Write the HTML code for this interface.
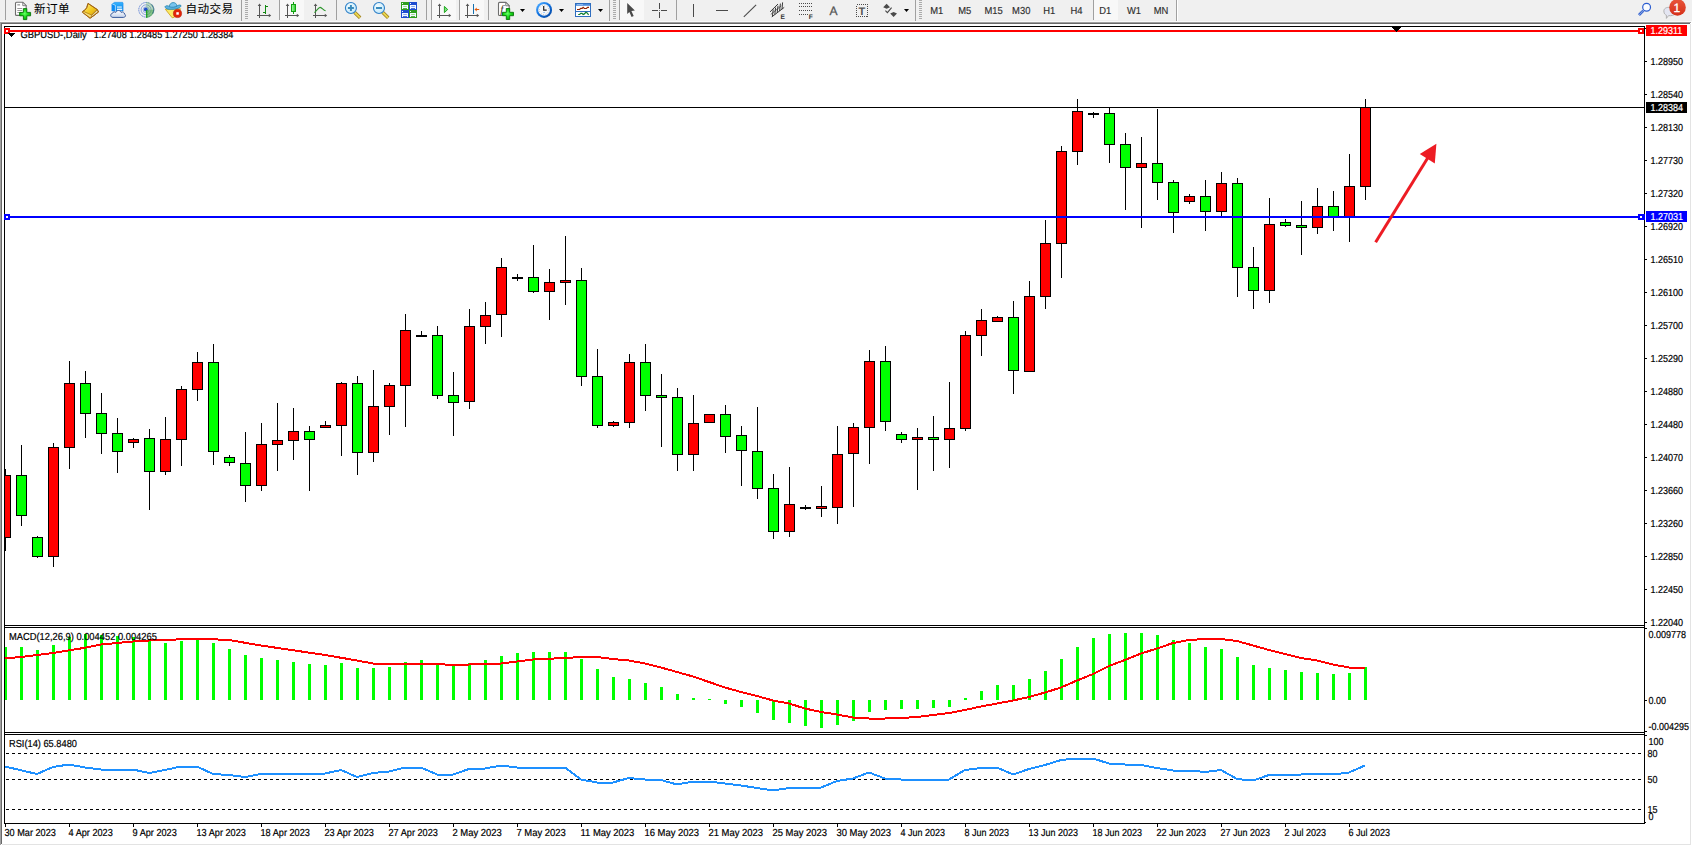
<!DOCTYPE html>
<html><head><meta charset="utf-8"><title>GBPUSD Daily</title>
<style>
html,body{margin:0;padding:0;background:#fff;}
svg text{text-rendering:geometricPrecision;}
body{width:1692px;height:845px;position:relative;overflow:hidden;font-family:"Liberation Sans","Noto Sans CJK SC",sans-serif;}
#tb{position:absolute;left:0;top:0;width:1692px;height:22px;background:#F0F0F0;}
.edge{position:absolute;}
.tf{position:absolute;top:4px;font-size:9px;line-height:12px;color:#3c3c3c;}
.cn{-webkit-text-stroke:0.08px #000;position:absolute;top:0.5px;font-size:11.6px;letter-spacing:0.4px;line-height:16px;color:#000;}
.sep{position:absolute;top:0;width:1px;height:20px;background:#A0A0A0;}
.act{position:absolute;top:0;height:20px;background:#F8F8F8;}
</style></head><body>
<div id="tb"><div class="sep" style="left:5px;height:20px"></div>
<div class="sep" style="left:241px;height:22px"></div>
<div style="position:absolute;left:245px;top:0;width:3px;height:20px;background:repeating-linear-gradient(to bottom,#ABABAB 0,#ABABAB 1px,transparent 1px,transparent 2px)"></div>
<div class="sep" style="left:279px;height:20px"></div>
<div class="act" style="left:280px;width:24px"></div>
<div class="sep" style="left:336px;height:20px"></div>
<div class="sep" style="left:426px;height:20px"></div>
<div class="sep" style="left:431px;height:20px"></div>
<div class="act" style="left:432px;width:24px"></div>
<div class="sep" style="left:459px;height:20px"></div>
<div class="act" style="left:460px;width:24px"></div>
<div class="sep" style="left:488px;height:20px"></div>
<div class="sep" style="left:609px;height:22px"></div>
<div style="position:absolute;left:613px;top:0;width:3px;height:20px;background:repeating-linear-gradient(to bottom,#ABABAB 0,#ABABAB 1px,transparent 1px,transparent 2px)"></div>
<div class="sep" style="left:619px;height:20px"></div>
<div class="act" style="left:620px;width:24px"></div>
<div class="sep" style="left:676px;height:20px"></div>
<div class="sep" style="left:915px;height:22px"></div>
<div style="position:absolute;left:919px;top:0;width:3px;height:20px;background:repeating-linear-gradient(to bottom,#ABABAB 0,#ABABAB 1px,transparent 1px,transparent 2px)"></div>
<div class="sep" style="left:1093px;height:20px"></div>
<div class="act" style="left:1094px;width:24px"></div>
<div class="sep" style="left:1176px;height:22px"></div>
<div style="position:absolute;left:1177px;top:0;width:1px;height:22px;background:#fff"></div>
<span class="cn" style="left:34px">新订单</span>
<span class="cn" style="left:185.6px">自动交易</span>
<svg width="1692" height="22" viewBox="0 0 1692 22" style="position:absolute;left:0;top:0">
<defs>
<radialGradient id="gp" cx="0.45" cy="0.45" r="0.6"><stop offset="0" stop-color="#66FF66"/><stop offset="0.55" stop-color="#18D818"/><stop offset="1" stop-color="#0AA00A"/></radialGradient>
<linearGradient id="gy" x1="0" y1="0" x2="1" y2="1"><stop offset="0" stop-color="#FFF08A"/><stop offset="0.5" stop-color="#F2C81E"/><stop offset="1" stop-color="#C98F0A"/></linearGradient>
<linearGradient id="gc" x1="0" y1="0" x2="0" y2="1"><stop offset="0" stop-color="#FFFFFF"/><stop offset="1" stop-color="#C4D2EA"/></linearGradient>
<linearGradient id="gb" x1="0" y1="0" x2="0" y2="1"><stop offset="0" stop-color="#35B4FF"/><stop offset="1" stop-color="#0A84E8"/></linearGradient>
<radialGradient id="gz" cx="0.4" cy="0.35" r="0.7"><stop offset="0" stop-color="#F4FDFF"/><stop offset="1" stop-color="#BFE6FA"/></radialGradient>
<linearGradient id="gr" x1="0" y1="0" x2="0" y2="1"><stop offset="0" stop-color="#E8553A"/><stop offset="1" stop-color="#D5301A"/></linearGradient>
<linearGradient id="gk" x1="0" y1="0" x2="1" y2="0"><stop offset="0" stop-color="#B0FFB0"/><stop offset="1" stop-color="#22CC22"/></linearGradient>
<radialGradient id="gclk" cx="0.5" cy="0.5" r="0.5"><stop offset="0.7" stop-color="#fff"/><stop offset="0.78" stop-color="#2C8CF0"/><stop offset="1" stop-color="#0A5AC0"/></radialGradient>
<linearGradient id="gclk2" x1="0.15" y1="0.1" x2="0.85" y2="0.9"><stop offset="0" stop-color="#46A6FF"/><stop offset="0.5" stop-color="#0E6EDC"/><stop offset="1" stop-color="#064CA8"/></linearGradient>
</defs>
<path d="M16.5 2.3h6.3l3.4 3.4v8.7a1 1 0 0 1 -1 1h-8.7a1 1 0 0 1 -1 -1v-11.1a1 1 0 0 1 1 -1z" fill="#fff" stroke="#6E6E6E" stroke-width="1.1"/>
<path d="M22.8 2.3v3.4h3.4z" fill="#fff" stroke="#6E6E6E" stroke-width="0.9" stroke-linejoin="round"/>
<rect x="17.3" y="4.2" width="2.8" height="1.3" fill="#9A9A9A"/>
<rect x="17.3" y="8.0" width="5" height="1" fill="#9A9A9A"/>
<rect x="17.3" y="10.0" width="5" height="1" fill="#9A9A9A"/>
<rect x="17.3" y="12.0" width="5" height="1" fill="#9A9A9A"/>
<path d="M23.400000000000002 8.6h3.4v3.8h3.8v3.4h-3.8v3.8h-3.4v-3.8h-3.8v-3.4h3.8z" fill="url(#gp)" stroke="#087808" stroke-width="0.9" stroke-linejoin="round"/>
<g transform="translate(0.5 0.3)">
<path d="M87.5 3.1 L96.7 9.2 L98 11.7 L90.3 17.5 L89.4 17.8 L82 12 L82.3 11.1 Q85.6 9.4 86.3 7.1 Z" fill="url(#gy)" stroke="#A0620E" stroke-width="0.9" stroke-linejoin="round"/>
<path d="M82.6 10.9 L91.2 14.8 L96.7 9.3 L97.8 11.6 L90.2 17.4 L82.2 12 Z" fill="#F4DC78" stroke="none"/>
<path d="M91.2 14.8 L96.7 9.3 L97.8 11.6 L90.4 17.3 Z" fill="#E8D8A0" stroke="#9A6410" stroke-width="0.6"/>
<path d="M82.6 10.9 L91.2 14.8 L96.7 9.3" fill="none" stroke="#B07A12" stroke-width="0.8"/>
<path d="M87.5 3.1 L96.7 9.2 L98 11.7 L90.3 17.5 L89.4 17.8 L82 12 L82.3 11.1 Q85.6 9.4 86.3 7.1 Z" fill="none" stroke="#A0620E" stroke-width="0.9" stroke-linejoin="round"/>
</g>
<path d="M111.9 4 L114.6 2.3 L122.6 2.3 L123.1 3.2 L123.1 11 L111.9 11 Z" fill="url(#gb)" stroke="#1884E8" stroke-width="0.5"/>
<path d="M111.9 4 L115.4 5.4 L115.4 11 L111.9 11 Z" fill="#0C8CF4"/>
<path d="M112.2 3.9 L115.4 5.3 L115.4 11" fill="none" stroke="#D8F0FF" stroke-width="0.7"/>
<rect x="117" y="6.5" width="4.8" height="1.1" fill="#F0FAFF"/><rect x="117" y="8.6" width="5.2" height="1.6" fill="#E4F4FF"/>
<path d="M113 17.4 C110.2 17.4 109.8 13.8 112.6 13.2 C112.8 11.8 114.8 11.4 115.8 12.4 C116.6 9.9 120.4 9.9 121.2 12.4 C122.8 11.4 124.8 12.6 124.4 14 C126.2 14.6 125.8 17.4 123.4 17.4 Z" fill="url(#gc)" stroke="#3A5A9C" stroke-width="1"/>
<g fill="none"><circle cx="146.1" cy="9.8" r="7.3" stroke="#2E5CCB" stroke-width="1" opacity="0.7" stroke-dasharray="1.3 0.5"/><circle cx="146.1" cy="9.8" r="5" stroke="#2E5CCB" stroke-width="1" opacity="0.5"/><circle cx="146.1" cy="9.8" r="3" stroke="#2E5CCB" stroke-width="0.9" opacity="0.45"/></g>
<path d="M146.1 1.8 A8 8 0 0 1 146.1 17.8 Z" fill="#58B058" opacity="0.33"/>
<path d="M146.1 9.8 L154.1 9.8 A8 8 0 0 1 146.1 17.8 Z" fill="#2E9E2E" opacity="0.4"/>
<path d="M151.4 4.4 A7.4 7.4 0 0 1 152.6 13.6" fill="none" stroke="#1E5A7A" stroke-width="1.1" opacity="0.6"/>
<circle cx="145.8" cy="9.5" r="1.9" fill="#2050C8"/>
<rect x="146.1" y="10" width="1.2" height="7.8" fill="#18A018"/>
<path d="M165.3 9.2 L180.7 8.8 L174.4 17.2 L172.2 17.8 Z" fill="#FBEA66" stroke="#CC9C12" stroke-width="0.8" stroke-linejoin="round"/>
<path d="M165 6.7 C165.8 9.8 170 9.5 173 9.3 C176.4 9.1 181.2 7.8 181 5.5 C179.8 4.4 177.6 5.4 177 6 L169.4 6.5 C168 5.4 165.4 5.5 165 6.7 Z" fill="#5CB2E2" stroke="#2484AE" stroke-width="0.8" stroke-linejoin="round"/>
<path d="M169.3 6.7 C169.6 1.4 176.6 1.2 177 6.1 C175 7.4 171.4 7.6 169.3 6.7 Z" fill="#78C4EE" stroke="#2484AE" stroke-width="0.8"/>
<circle cx="177.5" cy="13.5" r="4.1" fill="#E22408" stroke="#B81C06" stroke-width="0.6"/><rect x="176.3" y="12.2" width="2.5" height="2.5" fill="#fff"/>
<g fill="#555" shape-rendering="crispEdges"><rect x="259" y="5" width="1" height="13"/><rect x="257" y="15" width="13" height="1"/></g>
<path d="M259.5 3.6 L261.3 6 L257.7 6 Z M271.2 15.5 L268.8 13.7 L268.8 17.3 Z" fill="#555"/>
<g fill="#128A12" shape-rendering="crispEdges"><rect x="265" y="5" width="1" height="9"/><rect x="266" y="6" width="2" height="1"/><rect x="263" y="12" width="2" height="1"/></g>
<g fill="#555" shape-rendering="crispEdges"><rect x="287" y="5" width="1" height="13"/><rect x="285" y="15" width="13" height="1"/></g>
<path d="M287.5 3.6 L289.3 6 L285.7 6 Z M299.2 15.5 L296.8 13.7 L296.8 17.3 Z" fill="#555"/>
<rect x="293" y="2" width="1" height="12" fill="#12A012" shape-rendering="crispEdges"/><rect x="291.5" y="4.5" width="4" height="7" fill="url(#gk)" stroke="#12A012" stroke-width="1"/>
<g fill="#555" shape-rendering="crispEdges"><rect x="315" y="5" width="1" height="13"/><rect x="313" y="15" width="13" height="1"/></g>
<path d="M315.5 3.6 L317.3 6 L313.7 6 Z M327.2 15.5 L324.8 13.7 L324.8 17.3 Z" fill="#555"/>
<path d="M314.4 12.6 C317 10.8 318.4 7.2 320.2 7.4 C322 7.6 323.4 10.6 325.6 10.8" fill="none" stroke="#2C962C" stroke-width="1.1"/>
<path d="M354.5 12.2 L360.09999999999997 17.8" stroke="#9A7A18" stroke-width="3.4" stroke-linecap="butt"/>
<path d="M354.79999999999995 12.5 L359.9 17.6" stroke="#EAD650" stroke-width="2" stroke-linecap="butt"/>
<circle cx="350.9" cy="8" r="5.5" fill="url(#gz)" stroke="#2F80C8" stroke-width="1.1"/>
<rect x="347.9" y="7" width="6" height="2" fill="#3C8CBC"/>
<rect x="349.9" y="5" width="2" height="6" fill="#3C8CBC"/>
<path d="M382.6 12.2 L388.2 17.8" stroke="#9A7A18" stroke-width="3.4" stroke-linecap="butt"/>
<path d="M382.9 12.5 L388 17.6" stroke="#EAD650" stroke-width="2" stroke-linecap="butt"/>
<circle cx="379" cy="8" r="5.5" fill="url(#gz)" stroke="#2F80C8" stroke-width="1.1"/>
<rect x="376" y="7" width="6" height="2" fill="#3C8CBC"/>
<rect x="401" y="2" width="8" height="8" fill="#2E9E1E"/>
<rect x="402" y="5" width="6" height="4" fill="#F2F8FF"/><rect x="402" y="3" width="1" height="1" fill="#F2F8FF"/>
<rect x="403.2" y="6" width="3.6" height="1" fill="#9ADA8A"/>
<rect x="403" y="8.2" width="4" height="0.8" fill="#2E9E1E"/>
<rect x="409" y="2" width="8" height="8" fill="#1E4CD0"/>
<rect x="410" y="5" width="6" height="4" fill="#F2F8FF"/><rect x="410" y="3" width="1" height="1" fill="#F2F8FF"/>
<rect x="411.2" y="6" width="3.6" height="1" fill="#8AA6F0"/>
<rect x="411" y="8.2" width="4" height="0.8" fill="#1E4CD0"/>
<rect x="401" y="10" width="8" height="8" fill="#1E4CD0"/>
<rect x="402" y="13" width="6" height="4" fill="#F2F8FF"/><rect x="402" y="11" width="1" height="1" fill="#F2F8FF"/>
<rect x="403.2" y="14" width="3.6" height="1" fill="#8AA6F0"/>
<rect x="403" y="16.2" width="4" height="0.8" fill="#1E4CD0"/>
<rect x="409" y="10" width="8" height="8" fill="#2E9E1E"/>
<rect x="410" y="13" width="6" height="4" fill="#F2F8FF"/><rect x="410" y="11" width="1" height="1" fill="#F2F8FF"/>
<rect x="411.2" y="14" width="3.6" height="1" fill="#9ADA8A"/>
<rect x="411" y="16.2" width="4" height="0.8" fill="#2E9E1E"/>
<g fill="#555" shape-rendering="crispEdges"><rect x="439" y="5" width="1" height="13"/><rect x="437" y="15" width="13" height="1"/></g>
<path d="M439.5 3.6 L441.3 6 L437.7 6 Z M451.2 15.5 L448.8 13.7 L448.8 17.3 Z" fill="#555"/>
<path d="M444.4 6.4 L444.4 12.6 L447.7 9.5 Z" fill="#7BE07B" stroke="#12A012" stroke-width="0.9" stroke-linejoin="round"/>
<g fill="#555" shape-rendering="crispEdges"><rect x="467" y="5" width="1" height="13"/><rect x="465" y="15" width="13" height="1"/></g>
<path d="M467.5 3.6 L469.3 6 L465.7 6 Z M479.2 15.5 L476.8 13.7 L476.8 17.3 Z" fill="#555"/>
<rect x="473" y="4" width="1" height="10" fill="#1470B0" shape-rendering="crispEdges"/>
<path d="M474.4 9.5 L477 7.4 L476.6 9 L479.2 9 L479.2 10 L476.6 10 L477 11.6 Z" fill="#E25A0C"/>
<path d="M499.5 2.4h6.3l3.4 3.4v8.7a1 1 0 0 1 -1 1h-8.7a1 1 0 0 1 -1 -1v-11.1a1 1 0 0 1 1 -1z" fill="#fff" stroke="#6E6E6E" stroke-width="1.1"/>
<path d="M505.8 2.4v3.4h3.4z" fill="#fff" stroke="#6E6E6E" stroke-width="0.9" stroke-linejoin="round"/>
<text x="500.2" y="12.6" font-family="Liberation Serif, serif" font-style="italic" font-size="11.5" fill="#3A3420">f</text>
<path d="M506.3 8.5h3.4v3.8h3.8v3.4h-3.8v3.8h-3.4v-3.8h-3.8v-3.4h3.8z" fill="url(#gp)" stroke="#087808" stroke-width="0.9" stroke-linejoin="round"/>
<path d="M520 9 h5 l-2.5 3 z" fill="#000"/>
<circle cx="544.06" cy="9.9" r="8" fill="url(#gclk2)"/>
<circle cx="544.06" cy="9.9" r="5.9" fill="#F4F6F8"/>
<circle cx="544.06" cy="9.9" r="4.7" fill="none" stroke="#8A8A8A" stroke-width="0.9" stroke-dasharray="0.5 1.96"/>
<path d="M543.7 5.9 L543.7 10.1 L546.7 10.1" fill="none" stroke="#222" stroke-width="1.2"/>
<rect x="543.3" y="12.1" width="1.6" height="0.7" fill="#58A8FF"/>
<path d="M559 9 h5 l-2.5 3 z" fill="#000"/>
<rect x="575.5" y="3.5" width="15" height="13" fill="#fff" stroke="#2F6EC0" stroke-width="1"/>
<rect x="576" y="4" width="14" height="1.8" fill="#4C8CDC"/><rect x="577" y="4.3" width="6" height="0.7" fill="#A8CCF8"/><rect x="576" y="11" width="14" height="1" fill="#2F6EC0"/>
<path d="M577 9.5 L579.6 9.5 L580.8 8.3 L582.2 8.3 L583.1 7.4 L584.4 8.5 L586.4 8.5 L587.6 7.4 L589 7.4" fill="none" stroke="#902000" stroke-width="1.2"/>
<path d="M578.2 14.5 L579.6 14.5 L580.8 13.4 L582 13.4 L583.1 14.5 L584.4 13.9 L585.8 12.3 L587.2 12.9 L588.6 14.8" fill="none" stroke="#108030" stroke-width="1.2"/>
<path d="M598 9 h5 l-2.5 3 z" fill="#000"/>
<path d="M627.2 3 L627.2 13.9 L629.4 12.1 L631.6 17.1 L633.7 16.1 L631.4 11 L634.9 10.6 Z" fill="#4A4A4A"/>
<g fill="#4A4A4A" shape-rendering="crispEdges"><rect x="659" y="3" width="1" height="6"/><rect x="659" y="12" width="1" height="6"/><rect x="652" y="10" width="6" height="1"/><rect x="661" y="10" width="6" height="1"/><rect x="659" y="10" width="1" height="1" fill="#777"/></g>
<g fill="#4A4A4A" shape-rendering="crispEdges"><rect x="693" y="4" width="1" height="13"/><rect x="716" y="10" width="12" height="1"/></g>
<path d="M743.8 16.9 L756.1 4.8" stroke="#4A4A4A" stroke-width="1.1"/>
<g stroke="#3A3A3A" stroke-width="1" fill="none"><path d="M770 11.9 L778 4"/><path d="M771.8 16.9 L784.2 7.4"/><path d="M770.8 14.4 L781.2 5.8" stroke-width="0.7"/><path d="M772.4 16.6 L773.2 9.4 M774.8 14.6 L775.6 7.6 M777.2 12.8 L778 5.8 M779.6 11 L780.4 3.6 M782 9.2 L782.6 2.4" stroke-width="1"/></g>
<text x="780.6" y="18.7" font-family="Liberation Sans, sans-serif" font-weight="bold" font-size="6.6" fill="#333">E</text>
<line x1="799" y1="3.5" x2="813" y2="3.5" stroke="#4A4A4A" stroke-width="1" stroke-dasharray="1 1" shape-rendering="crispEdges"/>
<line x1="799" y1="6.5" x2="813" y2="6.5" stroke="#4A4A4A" stroke-width="1" stroke-dasharray="1 1" shape-rendering="crispEdges"/>
<line x1="799" y1="10.5" x2="813" y2="10.5" stroke="#4A4A4A" stroke-width="1" stroke-dasharray="1 1" shape-rendering="crispEdges"/>
<line x1="799" y1="14.5" x2="809" y2="14.5" stroke="#4A4A4A" stroke-width="1" stroke-dasharray="1 1" shape-rendering="crispEdges"/>
<text x="808.8" y="18.7" font-family="Liberation Sans, sans-serif" font-weight="bold" font-size="6.6" fill="#333">F</text>
<text x="829.6" y="14.9" font-family="Liberation Sans, sans-serif" font-size="12" fill="#555" stroke="#555" stroke-width="0.3">A</text>
<rect x="856.5" y="4.5" width="11" height="12" fill="none" stroke="#4A4A4A" stroke-width="1" stroke-dasharray="1 1" shape-rendering="crispEdges"/>
<text x="858.4" y="14.6" font-family="Liberation Sans, sans-serif" font-weight="bold" font-size="11" fill="#555">T</text>
<path d="M886.6 3.8 L890 7.2 L886.6 8.8 L883.2 7.2 Z" fill="#4A4A4A"/><path d="M893.6 17 L890.2 13.4 L893.6 12 L897 13.4 Z" fill="#4A4A4A"/>
<path d="M885.4 10.6 L887.4 12.6 L891.6 7.6" fill="none" stroke="#4A4A4A" stroke-width="1.1"/>
<path d="M904 9 h5 l-2.5 3 z" fill="#000"/>
<path d="M1643.2 10.8 L1638.9 15" stroke="#2A5CD0" stroke-width="3" stroke-dasharray="1 0.35"/>
<circle cx="1646.6" cy="7.2" r="3.9" fill="#FAFCFF" stroke="#2A5CD0" stroke-width="1.2"/>
<path d="M1664 12.2 C1663 8.2 1667 7 1670 7.4 C1675 7.6 1676.6 10 1675.6 13 C1674.8 15.4 1671 16 1668.6 15.6 L1666.4 18.4 L1666.4 15.2 C1665 14.6 1664.2 13.6 1664 12.2 Z" fill="#E4E6F2" stroke="#ABABAB" stroke-width="0.9"/>
<circle cx="1677.5" cy="7.4" r="8.3" fill="url(#gr)"/>
<text x="1673.6" y="12" font-family="Liberation Sans, sans-serif" font-size="12" fill="#fff" stroke="#fff" stroke-width="0.3">1</text>
<text transform="translate(930.2 14) scale(0.925 1)" font-family="Liberation Sans, sans-serif" font-size="10.17" fill="#2e2e2e" stroke="#2e2e2e" stroke-width="0.15">M1</text>
<text transform="translate(958.2 14) scale(0.925 1)" font-family="Liberation Sans, sans-serif" font-size="10.17" fill="#2e2e2e" stroke="#2e2e2e" stroke-width="0.15">M5</text>
<text transform="translate(984.5 14) scale(0.925 1)" font-family="Liberation Sans, sans-serif" font-size="10.17" fill="#2e2e2e" stroke="#2e2e2e" stroke-width="0.15">M15</text>
<text transform="translate(1012.1 14) scale(0.925 1)" font-family="Liberation Sans, sans-serif" font-size="10.17" fill="#2e2e2e" stroke="#2e2e2e" stroke-width="0.15">M30</text>
<text transform="translate(1043.3 14) scale(0.925 1)" font-family="Liberation Sans, sans-serif" font-size="10.17" fill="#2e2e2e" stroke="#2e2e2e" stroke-width="0.15">H1</text>
<text transform="translate(1070.5 14) scale(0.925 1)" font-family="Liberation Sans, sans-serif" font-size="10.17" fill="#2e2e2e" stroke="#2e2e2e" stroke-width="0.15">H4</text>
<text transform="translate(1099.3 14) scale(0.925 1)" font-family="Liberation Sans, sans-serif" font-size="10.17" fill="#2e2e2e" stroke="#2e2e2e" stroke-width="0.15">D1</text>
<text transform="translate(1126.9 14) scale(0.925 1)" font-family="Liberation Sans, sans-serif" font-size="10.17" fill="#2e2e2e" stroke="#2e2e2e" stroke-width="0.15">W1</text>
<text transform="translate(1153.7 14) scale(0.925 1)" font-family="Liberation Sans, sans-serif" font-size="10.17" fill="#2e2e2e" stroke="#2e2e2e" stroke-width="0.15">MN</text>
</svg></div>
<div class="edge" style="left:0;top:21px;width:1692px;height:1px;background:#FAFAFA"></div>
<div class="edge" style="left:0;top:22px;width:1691px;height:1px;background:#A0A0A0"></div>
<div class="edge" style="left:0;top:23px;width:1690px;height:1px;background:#696969"></div>
<div class="edge" style="left:0;top:22px;width:1px;height:823px;background:#A0A0A0"></div>
<div class="edge" style="left:1px;top:23px;width:1px;height:821px;background:#696969"></div>
<div class="edge" style="left:1690px;top:24px;width:1px;height:821px;background:#E3E3E3"></div>
<div class="edge" style="left:1691px;top:22px;width:1px;height:823px;background:#FFFFFF"></div>
<div class="edge" style="left:2px;top:844px;width:1689px;height:1px;background:#E3E3E3"></div>
<svg width="1692" height="845" viewBox="0 0 1692 845" style="position:absolute;left:0;top:0" shape-rendering="crispEdges">
<rect x="4" y="26" width="1641" height="1" fill="#000"/>
<rect x="4" y="26" width="1" height="798" fill="#000"/>
<rect x="1644" y="26" width="1" height="798" fill="#000"/>
<rect x="4" y="625" width="1641" height="1" fill="#000"/>
<rect x="4" y="627" width="1641" height="1" fill="#000"/>
<rect x="4" y="732" width="1641" height="1" fill="#000"/>
<rect x="4" y="734" width="1641" height="1" fill="#000"/>
<rect x="4" y="823" width="1641" height="1" fill="#000"/>
<clipPath id="cm"><rect x="5" y="27" width="1639" height="598"/></clipPath>
<clipPath id="c2"><rect x="5" y="628" width="1639" height="104"/></clipPath>
<clipPath id="c3"><rect x="5" y="735" width="1639" height="88"/></clipPath>
<rect x="1645" y="28" width="2" height="1" fill="#000"/>
<rect x="1645" y="61" width="2" height="1" fill="#000"/>
<text transform="translate(1650.5 65) scale(0.885 1)" font-family="Liberation Sans, sans-serif" font-size="10.17" fill="#000" stroke="#000" stroke-width="0.2">1.28950</text>
<rect x="1645" y="94" width="2" height="1" fill="#000"/>
<text transform="translate(1650.5 98) scale(0.885 1)" font-family="Liberation Sans, sans-serif" font-size="10.17" fill="#000" stroke="#000" stroke-width="0.2">1.28540</text>
<rect x="1645" y="127" width="2" height="1" fill="#000"/>
<text transform="translate(1650.5 131) scale(0.885 1)" font-family="Liberation Sans, sans-serif" font-size="10.17" fill="#000" stroke="#000" stroke-width="0.2">1.28130</text>
<rect x="1645" y="160" width="2" height="1" fill="#000"/>
<text transform="translate(1650.5 164) scale(0.885 1)" font-family="Liberation Sans, sans-serif" font-size="10.17" fill="#000" stroke="#000" stroke-width="0.2">1.27730</text>
<rect x="1645" y="193" width="2" height="1" fill="#000"/>
<text transform="translate(1650.5 197) scale(0.885 1)" font-family="Liberation Sans, sans-serif" font-size="10.17" fill="#000" stroke="#000" stroke-width="0.2">1.27320</text>
<rect x="1645" y="226" width="2" height="1" fill="#000"/>
<text transform="translate(1650.5 230) scale(0.885 1)" font-family="Liberation Sans, sans-serif" font-size="10.17" fill="#000" stroke="#000" stroke-width="0.2">1.26920</text>
<rect x="1645" y="259" width="2" height="1" fill="#000"/>
<text transform="translate(1650.5 263) scale(0.885 1)" font-family="Liberation Sans, sans-serif" font-size="10.17" fill="#000" stroke="#000" stroke-width="0.2">1.26510</text>
<rect x="1645" y="292" width="2" height="1" fill="#000"/>
<text transform="translate(1650.5 296) scale(0.885 1)" font-family="Liberation Sans, sans-serif" font-size="10.17" fill="#000" stroke="#000" stroke-width="0.2">1.26100</text>
<rect x="1645" y="325" width="2" height="1" fill="#000"/>
<text transform="translate(1650.5 329) scale(0.885 1)" font-family="Liberation Sans, sans-serif" font-size="10.17" fill="#000" stroke="#000" stroke-width="0.2">1.25700</text>
<rect x="1645" y="358" width="2" height="1" fill="#000"/>
<text transform="translate(1650.5 362) scale(0.885 1)" font-family="Liberation Sans, sans-serif" font-size="10.17" fill="#000" stroke="#000" stroke-width="0.2">1.25290</text>
<rect x="1645" y="391" width="2" height="1" fill="#000"/>
<text transform="translate(1650.5 395) scale(0.885 1)" font-family="Liberation Sans, sans-serif" font-size="10.17" fill="#000" stroke="#000" stroke-width="0.2">1.24880</text>
<rect x="1645" y="424" width="2" height="1" fill="#000"/>
<text transform="translate(1650.5 428) scale(0.885 1)" font-family="Liberation Sans, sans-serif" font-size="10.17" fill="#000" stroke="#000" stroke-width="0.2">1.24480</text>
<rect x="1645" y="457" width="2" height="1" fill="#000"/>
<text transform="translate(1650.5 461) scale(0.885 1)" font-family="Liberation Sans, sans-serif" font-size="10.17" fill="#000" stroke="#000" stroke-width="0.2">1.24070</text>
<rect x="1645" y="490" width="2" height="1" fill="#000"/>
<text transform="translate(1650.5 494) scale(0.885 1)" font-family="Liberation Sans, sans-serif" font-size="10.17" fill="#000" stroke="#000" stroke-width="0.2">1.23660</text>
<rect x="1645" y="523" width="2" height="1" fill="#000"/>
<text transform="translate(1650.5 527) scale(0.885 1)" font-family="Liberation Sans, sans-serif" font-size="10.17" fill="#000" stroke="#000" stroke-width="0.2">1.23260</text>
<rect x="1645" y="556" width="2" height="1" fill="#000"/>
<text transform="translate(1650.5 560) scale(0.885 1)" font-family="Liberation Sans, sans-serif" font-size="10.17" fill="#000" stroke="#000" stroke-width="0.2">1.22850</text>
<rect x="1645" y="589" width="2" height="1" fill="#000"/>
<text transform="translate(1650.5 593) scale(0.885 1)" font-family="Liberation Sans, sans-serif" font-size="10.17" fill="#000" stroke="#000" stroke-width="0.2">1.22450</text>
<rect x="1645" y="622" width="2" height="1" fill="#000"/>
<text transform="translate(1650.5 626) scale(0.885 1)" font-family="Liberation Sans, sans-serif" font-size="10.17" fill="#000" stroke="#000" stroke-width="0.2">1.22040</text>
<g clip-path="url(#cm)">
<rect x="5" y="469" width="1" height="82" fill="#000"/>
<rect x="0" y="475" width="11" height="63" fill="#000"/>
<rect x="1" y="476" width="9" height="61" fill="#FF0000"/>
<rect x="21" y="445" width="1" height="81" fill="#000"/>
<rect x="16" y="475" width="11" height="41" fill="#000"/>
<rect x="17" y="476" width="9" height="39" fill="#00FF00"/>
<rect x="37" y="536" width="1" height="22" fill="#000"/>
<rect x="32" y="537" width="11" height="20" fill="#000"/>
<rect x="33" y="538" width="9" height="18" fill="#00FF00"/>
<rect x="53" y="443" width="1" height="124" fill="#000"/>
<rect x="48" y="447" width="11" height="110" fill="#000"/>
<rect x="49" y="448" width="9" height="108" fill="#FF0000"/>
<rect x="69" y="361" width="1" height="108" fill="#000"/>
<rect x="64" y="383" width="11" height="65" fill="#000"/>
<rect x="65" y="384" width="9" height="63" fill="#FF0000"/>
<rect x="85" y="371" width="1" height="67" fill="#000"/>
<rect x="80" y="383" width="11" height="31" fill="#000"/>
<rect x="81" y="384" width="9" height="29" fill="#00FF00"/>
<rect x="101" y="393" width="1" height="61" fill="#000"/>
<rect x="96" y="413" width="11" height="21" fill="#000"/>
<rect x="97" y="414" width="9" height="19" fill="#00FF00"/>
<rect x="117" y="418" width="1" height="55" fill="#000"/>
<rect x="112" y="433" width="11" height="19" fill="#000"/>
<rect x="113" y="434" width="9" height="17" fill="#00FF00"/>
<rect x="133" y="438" width="1" height="10" fill="#000"/>
<rect x="128" y="439" width="11" height="4" fill="#000"/>
<rect x="129" y="440" width="9" height="2" fill="#FF0000"/>
<rect x="149" y="429" width="1" height="81" fill="#000"/>
<rect x="144" y="438" width="11" height="34" fill="#000"/>
<rect x="145" y="439" width="9" height="32" fill="#00FF00"/>
<rect x="165" y="417" width="1" height="58" fill="#000"/>
<rect x="160" y="439" width="11" height="33" fill="#000"/>
<rect x="161" y="440" width="9" height="31" fill="#FF0000"/>
<rect x="181" y="386" width="1" height="80" fill="#000"/>
<rect x="176" y="389" width="11" height="51" fill="#000"/>
<rect x="177" y="390" width="9" height="49" fill="#FF0000"/>
<rect x="197" y="352" width="1" height="49" fill="#000"/>
<rect x="192" y="362" width="11" height="28" fill="#000"/>
<rect x="193" y="363" width="9" height="26" fill="#FF0000"/>
<rect x="213" y="344" width="1" height="121" fill="#000"/>
<rect x="208" y="362" width="11" height="90" fill="#000"/>
<rect x="209" y="363" width="9" height="88" fill="#00FF00"/>
<rect x="229" y="455" width="1" height="11" fill="#000"/>
<rect x="224" y="457" width="11" height="6" fill="#000"/>
<rect x="225" y="458" width="9" height="4" fill="#00FF00"/>
<rect x="245" y="432" width="1" height="70" fill="#000"/>
<rect x="240" y="463" width="11" height="23" fill="#000"/>
<rect x="241" y="464" width="9" height="21" fill="#00FF00"/>
<rect x="261" y="423" width="1" height="68" fill="#000"/>
<rect x="256" y="444" width="11" height="42" fill="#000"/>
<rect x="257" y="445" width="9" height="40" fill="#FF0000"/>
<rect x="277" y="403" width="1" height="68" fill="#000"/>
<rect x="272" y="440" width="11" height="5" fill="#000"/>
<rect x="273" y="441" width="9" height="3" fill="#FF0000"/>
<rect x="293" y="408" width="1" height="52" fill="#000"/>
<rect x="288" y="431" width="11" height="10" fill="#000"/>
<rect x="289" y="432" width="9" height="8" fill="#FF0000"/>
<rect x="309" y="426" width="1" height="65" fill="#000"/>
<rect x="304" y="431" width="11" height="9" fill="#000"/>
<rect x="305" y="432" width="9" height="7" fill="#00FF00"/>
<rect x="325" y="421" width="1" height="7" fill="#000"/>
<rect x="320" y="425" width="11" height="3" fill="#000"/>
<rect x="321" y="426" width="9" height="1" fill="#FF0000"/>
<rect x="341" y="382" width="1" height="74" fill="#000"/>
<rect x="336" y="383" width="11" height="43" fill="#000"/>
<rect x="337" y="384" width="9" height="41" fill="#FF0000"/>
<rect x="357" y="376" width="1" height="99" fill="#000"/>
<rect x="352" y="383" width="11" height="70" fill="#000"/>
<rect x="353" y="384" width="9" height="68" fill="#00FF00"/>
<rect x="373" y="370" width="1" height="92" fill="#000"/>
<rect x="368" y="406" width="11" height="47" fill="#000"/>
<rect x="369" y="407" width="9" height="45" fill="#FF0000"/>
<rect x="389" y="383" width="1" height="52" fill="#000"/>
<rect x="384" y="385" width="11" height="22" fill="#000"/>
<rect x="385" y="386" width="9" height="20" fill="#FF0000"/>
<rect x="405" y="314" width="1" height="113" fill="#000"/>
<rect x="400" y="330" width="11" height="56" fill="#000"/>
<rect x="401" y="331" width="9" height="54" fill="#FF0000"/>
<rect x="421" y="331" width="1" height="6" fill="#000"/>
<rect x="416" y="335" width="11" height="2" fill="#000"/>
<rect x="437" y="326" width="1" height="73" fill="#000"/>
<rect x="432" y="335" width="11" height="61" fill="#000"/>
<rect x="433" y="336" width="9" height="59" fill="#00FF00"/>
<rect x="453" y="372" width="1" height="64" fill="#000"/>
<rect x="448" y="395" width="11" height="8" fill="#000"/>
<rect x="449" y="396" width="9" height="6" fill="#00FF00"/>
<rect x="469" y="309" width="1" height="100" fill="#000"/>
<rect x="464" y="326" width="11" height="76" fill="#000"/>
<rect x="465" y="327" width="9" height="74" fill="#FF0000"/>
<rect x="485" y="302" width="1" height="42" fill="#000"/>
<rect x="480" y="315" width="11" height="12" fill="#000"/>
<rect x="481" y="316" width="9" height="10" fill="#FF0000"/>
<rect x="501" y="258" width="1" height="79" fill="#000"/>
<rect x="496" y="267" width="11" height="48" fill="#000"/>
<rect x="497" y="268" width="9" height="46" fill="#FF0000"/>
<rect x="517" y="274" width="1" height="7" fill="#000"/>
<rect x="512" y="277" width="11" height="2" fill="#000"/>
<rect x="533" y="245" width="1" height="48" fill="#000"/>
<rect x="528" y="277" width="11" height="15" fill="#000"/>
<rect x="529" y="278" width="9" height="13" fill="#00FF00"/>
<rect x="549" y="269" width="1" height="51" fill="#000"/>
<rect x="544" y="282" width="11" height="10" fill="#000"/>
<rect x="545" y="283" width="9" height="8" fill="#FF0000"/>
<rect x="565" y="236" width="1" height="69" fill="#000"/>
<rect x="560" y="280" width="11" height="3" fill="#000"/>
<rect x="561" y="281" width="9" height="1" fill="#FF0000"/>
<rect x="581" y="268" width="1" height="118" fill="#000"/>
<rect x="576" y="280" width="11" height="97" fill="#000"/>
<rect x="577" y="281" width="9" height="95" fill="#00FF00"/>
<rect x="597" y="349" width="1" height="79" fill="#000"/>
<rect x="592" y="376" width="11" height="50" fill="#000"/>
<rect x="593" y="377" width="9" height="48" fill="#00FF00"/>
<rect x="613" y="421" width="1" height="6" fill="#000"/>
<rect x="608" y="422" width="11" height="4" fill="#000"/>
<rect x="609" y="423" width="9" height="2" fill="#FF0000"/>
<rect x="629" y="354" width="1" height="74" fill="#000"/>
<rect x="624" y="362" width="11" height="61" fill="#000"/>
<rect x="625" y="363" width="9" height="59" fill="#FF0000"/>
<rect x="645" y="344" width="1" height="67" fill="#000"/>
<rect x="640" y="362" width="11" height="34" fill="#000"/>
<rect x="641" y="363" width="9" height="32" fill="#00FF00"/>
<rect x="661" y="374" width="1" height="73" fill="#000"/>
<rect x="656" y="395" width="11" height="3" fill="#000"/>
<rect x="657" y="396" width="9" height="1" fill="#00FF00"/>
<rect x="677" y="388" width="1" height="83" fill="#000"/>
<rect x="672" y="397" width="11" height="58" fill="#000"/>
<rect x="673" y="398" width="9" height="56" fill="#00FF00"/>
<rect x="693" y="395" width="1" height="76" fill="#000"/>
<rect x="688" y="423" width="11" height="32" fill="#000"/>
<rect x="689" y="424" width="9" height="30" fill="#FF0000"/>
<rect x="709" y="414" width="1" height="9" fill="#000"/>
<rect x="704" y="414" width="11" height="9" fill="#000"/>
<rect x="705" y="415" width="9" height="7" fill="#FF0000"/>
<rect x="725" y="405" width="1" height="48" fill="#000"/>
<rect x="720" y="414" width="11" height="23" fill="#000"/>
<rect x="721" y="415" width="9" height="21" fill="#00FF00"/>
<rect x="741" y="426" width="1" height="60" fill="#000"/>
<rect x="736" y="435" width="11" height="16" fill="#000"/>
<rect x="737" y="436" width="9" height="14" fill="#00FF00"/>
<rect x="757" y="407" width="1" height="92" fill="#000"/>
<rect x="752" y="451" width="11" height="38" fill="#000"/>
<rect x="753" y="452" width="9" height="36" fill="#00FF00"/>
<rect x="773" y="474" width="1" height="65" fill="#000"/>
<rect x="768" y="488" width="11" height="44" fill="#000"/>
<rect x="769" y="489" width="9" height="42" fill="#00FF00"/>
<rect x="789" y="467" width="1" height="70" fill="#000"/>
<rect x="784" y="504" width="11" height="28" fill="#000"/>
<rect x="785" y="505" width="9" height="26" fill="#FF0000"/>
<rect x="805" y="505" width="1" height="5" fill="#000"/>
<rect x="800" y="507" width="11" height="2" fill="#000"/>
<rect x="821" y="486" width="1" height="31" fill="#000"/>
<rect x="816" y="506" width="11" height="3" fill="#000"/>
<rect x="817" y="507" width="9" height="1" fill="#FF0000"/>
<rect x="837" y="426" width="1" height="98" fill="#000"/>
<rect x="832" y="454" width="11" height="54" fill="#000"/>
<rect x="833" y="455" width="9" height="52" fill="#FF0000"/>
<rect x="853" y="423" width="1" height="84" fill="#000"/>
<rect x="848" y="427" width="11" height="27" fill="#000"/>
<rect x="849" y="428" width="9" height="25" fill="#FF0000"/>
<rect x="869" y="350" width="1" height="114" fill="#000"/>
<rect x="864" y="361" width="11" height="67" fill="#000"/>
<rect x="865" y="362" width="9" height="65" fill="#FF0000"/>
<rect x="885" y="346" width="1" height="85" fill="#000"/>
<rect x="880" y="361" width="11" height="61" fill="#000"/>
<rect x="881" y="362" width="9" height="59" fill="#00FF00"/>
<rect x="901" y="432" width="1" height="11" fill="#000"/>
<rect x="896" y="434" width="11" height="6" fill="#000"/>
<rect x="897" y="435" width="9" height="4" fill="#00FF00"/>
<rect x="917" y="428" width="1" height="62" fill="#000"/>
<rect x="912" y="437" width="11" height="3" fill="#000"/>
<rect x="913" y="438" width="9" height="1" fill="#FF0000"/>
<rect x="933" y="416" width="1" height="55" fill="#000"/>
<rect x="928" y="437" width="11" height="3" fill="#000"/>
<rect x="929" y="438" width="9" height="1" fill="#00FF00"/>
<rect x="949" y="382" width="1" height="86" fill="#000"/>
<rect x="944" y="428" width="11" height="12" fill="#000"/>
<rect x="945" y="429" width="9" height="10" fill="#FF0000"/>
<rect x="965" y="331" width="1" height="100" fill="#000"/>
<rect x="960" y="335" width="11" height="94" fill="#000"/>
<rect x="961" y="336" width="9" height="92" fill="#FF0000"/>
<rect x="981" y="309" width="1" height="47" fill="#000"/>
<rect x="976" y="320" width="11" height="16" fill="#000"/>
<rect x="977" y="321" width="9" height="14" fill="#FF0000"/>
<rect x="997" y="316" width="1" height="6" fill="#000"/>
<rect x="992" y="317" width="11" height="5" fill="#000"/>
<rect x="993" y="318" width="9" height="3" fill="#FF0000"/>
<rect x="1013" y="301" width="1" height="93" fill="#000"/>
<rect x="1008" y="317" width="11" height="54" fill="#000"/>
<rect x="1009" y="318" width="9" height="52" fill="#00FF00"/>
<rect x="1029" y="281" width="1" height="91" fill="#000"/>
<rect x="1024" y="296" width="11" height="76" fill="#000"/>
<rect x="1025" y="297" width="9" height="74" fill="#FF0000"/>
<rect x="1045" y="220" width="1" height="89" fill="#000"/>
<rect x="1040" y="243" width="11" height="54" fill="#000"/>
<rect x="1041" y="244" width="9" height="52" fill="#FF0000"/>
<rect x="1061" y="146" width="1" height="132" fill="#000"/>
<rect x="1056" y="151" width="11" height="93" fill="#000"/>
<rect x="1057" y="152" width="9" height="91" fill="#FF0000"/>
<rect x="1077" y="99" width="1" height="66" fill="#000"/>
<rect x="1072" y="111" width="11" height="41" fill="#000"/>
<rect x="1073" y="112" width="9" height="39" fill="#FF0000"/>
<rect x="1093" y="112" width="1" height="6" fill="#000"/>
<rect x="1088" y="113" width="11" height="2" fill="#000"/>
<rect x="1109" y="108" width="1" height="55" fill="#000"/>
<rect x="1104" y="113" width="11" height="32" fill="#000"/>
<rect x="1105" y="114" width="9" height="30" fill="#00FF00"/>
<rect x="1125" y="133" width="1" height="77" fill="#000"/>
<rect x="1120" y="144" width="11" height="24" fill="#000"/>
<rect x="1121" y="145" width="9" height="22" fill="#00FF00"/>
<rect x="1141" y="137" width="1" height="91" fill="#000"/>
<rect x="1136" y="163" width="11" height="5" fill="#000"/>
<rect x="1137" y="164" width="9" height="3" fill="#FF0000"/>
<rect x="1157" y="109" width="1" height="91" fill="#000"/>
<rect x="1152" y="163" width="11" height="20" fill="#000"/>
<rect x="1153" y="164" width="9" height="18" fill="#00FF00"/>
<rect x="1173" y="180" width="1" height="53" fill="#000"/>
<rect x="1168" y="182" width="11" height="31" fill="#000"/>
<rect x="1169" y="183" width="9" height="29" fill="#00FF00"/>
<rect x="1189" y="194" width="1" height="10" fill="#000"/>
<rect x="1184" y="196" width="11" height="6" fill="#000"/>
<rect x="1185" y="197" width="9" height="4" fill="#FF0000"/>
<rect x="1205" y="180" width="1" height="51" fill="#000"/>
<rect x="1200" y="196" width="11" height="16" fill="#000"/>
<rect x="1201" y="197" width="9" height="14" fill="#00FF00"/>
<rect x="1221" y="172" width="1" height="44" fill="#000"/>
<rect x="1216" y="183" width="11" height="29" fill="#000"/>
<rect x="1217" y="184" width="9" height="27" fill="#FF0000"/>
<rect x="1237" y="178" width="1" height="119" fill="#000"/>
<rect x="1232" y="183" width="11" height="85" fill="#000"/>
<rect x="1233" y="184" width="9" height="83" fill="#00FF00"/>
<rect x="1253" y="247" width="1" height="62" fill="#000"/>
<rect x="1248" y="267" width="11" height="24" fill="#000"/>
<rect x="1249" y="268" width="9" height="22" fill="#00FF00"/>
<rect x="1269" y="198" width="1" height="105" fill="#000"/>
<rect x="1264" y="224" width="11" height="67" fill="#000"/>
<rect x="1265" y="225" width="9" height="65" fill="#FF0000"/>
<rect x="1285" y="219" width="1" height="8" fill="#000"/>
<rect x="1280" y="222" width="11" height="4" fill="#000"/>
<rect x="1281" y="223" width="9" height="2" fill="#00FF00"/>
<rect x="1301" y="201" width="1" height="54" fill="#000"/>
<rect x="1296" y="225" width="11" height="3" fill="#000"/>
<rect x="1297" y="226" width="9" height="1" fill="#00FF00"/>
<rect x="1317" y="188" width="1" height="46" fill="#000"/>
<rect x="1312" y="206" width="11" height="22" fill="#000"/>
<rect x="1313" y="207" width="9" height="20" fill="#FF0000"/>
<rect x="1333" y="191" width="1" height="40" fill="#000"/>
<rect x="1328" y="206" width="11" height="11" fill="#000"/>
<rect x="1329" y="207" width="9" height="9" fill="#00FF00"/>
<rect x="1349" y="154" width="1" height="88" fill="#000"/>
<rect x="1344" y="186" width="11" height="31" fill="#000"/>
<rect x="1345" y="187" width="9" height="29" fill="#FF0000"/>
<rect x="1365" y="99" width="1" height="101" fill="#000"/>
<rect x="1360" y="107" width="11" height="80" fill="#000"/>
<rect x="1361" y="108" width="9" height="78" fill="#FF0000"/>
</g>
<rect x="5" y="107" width="1639" height="1" fill="#000"/>
<rect x="5" y="216" width="1639" height="2" fill="#0000FF"/>
<text transform="translate(20.5 38) scale(0.9238 1)" font-family="Liberation Sans, sans-serif" font-size="10.17" fill="#000" stroke="#000" stroke-width="0.2">GBPUSD-,Daily</text>
<text transform="translate(93.7 38) scale(0.899 1)" font-family="Liberation Sans, sans-serif" font-size="10.17" fill="#000" stroke="#000" stroke-width="0.2">1.27408 1.28485 1.27250 1.28384</text>
<rect x="5" y="30" width="1639" height="2" fill="#FF0000"/>
<rect x="4" y="28" width="6" height="6" fill="#FF0000"/>
<rect x="6" y="30" width="2" height="2" fill="#fff"/>
<rect x="1638" y="28" width="6" height="6" fill="#FF0000"/>
<rect x="1640" y="30" width="2" height="2" fill="#fff"/>
<rect x="4" y="214" width="6" height="6" fill="#0000FF"/>
<rect x="6" y="216" width="2" height="2" fill="#fff"/>
<rect x="1638" y="214" width="6" height="6" fill="#0000FF"/>
<rect x="1640" y="216" width="2" height="2" fill="#fff"/>
<rect x="1644" y="214" width="1" height="6" fill="#0000FF"/>
<rect x="1646" y="25" width="41" height="11" fill="#FF0000"/>
<text transform="translate(1650.5 34) scale(0.885 1)" font-family="Liberation Sans, sans-serif" font-size="10.17" fill="#fff" stroke="#fff" stroke-width="0.2">1.29311</text>
<rect x="1646" y="102" width="41" height="11" fill="#000"/>
<text transform="translate(1650.5 111) scale(0.885 1)" font-family="Liberation Sans, sans-serif" font-size="10.17" fill="#fff" stroke="#fff" stroke-width="0.2">1.28384</text>
<rect x="1646" y="211" width="41" height="11" fill="#0000FF"/>
<text transform="translate(1650.5 220) scale(0.885 1)" font-family="Liberation Sans, sans-serif" font-size="10.17" fill="#fff" stroke="#fff" stroke-width="0.2">1.27031</text>
<rect x="1392" y="27" width="9" height="1" fill="#000"/>
<rect x="1393" y="28" width="7" height="1" fill="#000"/>
<rect x="1394" y="29" width="5" height="1" fill="#000"/>
<rect x="1395" y="30" width="3" height="1" fill="#000"/>
<rect x="1396" y="31" width="1" height="1" fill="#000"/>
<polygon points="8,33 15,33 11.5,37" fill="#000"/>
<g clip-path="url(#c2)">
<rect x="4" y="647" width="3" height="53" fill="#00FF00"/>
<rect x="20" y="647" width="3" height="53" fill="#00FF00"/>
<rect x="36" y="650" width="3" height="50" fill="#00FF00"/>
<rect x="52" y="645" width="3" height="55" fill="#00FF00"/>
<rect x="68" y="637" width="3" height="63" fill="#00FF00"/>
<rect x="84" y="634" width="3" height="66" fill="#00FF00"/>
<rect x="100" y="635" width="3" height="65" fill="#00FF00"/>
<rect x="116" y="636" width="3" height="64" fill="#00FF00"/>
<rect x="132" y="637" width="3" height="63" fill="#00FF00"/>
<rect x="148" y="639" width="3" height="61" fill="#00FF00"/>
<rect x="164" y="643" width="3" height="57" fill="#00FF00"/>
<rect x="180" y="641" width="3" height="59" fill="#00FF00"/>
<rect x="196" y="639" width="3" height="61" fill="#00FF00"/>
<rect x="212" y="643" width="3" height="57" fill="#00FF00"/>
<rect x="228" y="649" width="3" height="51" fill="#00FF00"/>
<rect x="244" y="655" width="3" height="45" fill="#00FF00"/>
<rect x="260" y="658" width="3" height="42" fill="#00FF00"/>
<rect x="276" y="660" width="3" height="40" fill="#00FF00"/>
<rect x="292" y="662" width="3" height="38" fill="#00FF00"/>
<rect x="308" y="664" width="3" height="36" fill="#00FF00"/>
<rect x="324" y="665" width="3" height="35" fill="#00FF00"/>
<rect x="340" y="663" width="3" height="37" fill="#00FF00"/>
<rect x="356" y="668" width="3" height="32" fill="#00FF00"/>
<rect x="372" y="668" width="3" height="32" fill="#00FF00"/>
<rect x="388" y="667" width="3" height="33" fill="#00FF00"/>
<rect x="404" y="662" width="3" height="38" fill="#00FF00"/>
<rect x="420" y="660" width="3" height="40" fill="#00FF00"/>
<rect x="436" y="664" width="3" height="36" fill="#00FF00"/>
<rect x="452" y="666" width="3" height="34" fill="#00FF00"/>
<rect x="468" y="663" width="3" height="37" fill="#00FF00"/>
<rect x="484" y="660" width="3" height="40" fill="#00FF00"/>
<rect x="500" y="656" width="3" height="44" fill="#00FF00"/>
<rect x="516" y="653" width="3" height="47" fill="#00FF00"/>
<rect x="532" y="652" width="3" height="48" fill="#00FF00"/>
<rect x="548" y="652" width="3" height="48" fill="#00FF00"/>
<rect x="564" y="652" width="3" height="48" fill="#00FF00"/>
<rect x="580" y="659" width="3" height="41" fill="#00FF00"/>
<rect x="596" y="669" width="3" height="31" fill="#00FF00"/>
<rect x="612" y="677" width="3" height="23" fill="#00FF00"/>
<rect x="628" y="679" width="3" height="21" fill="#00FF00"/>
<rect x="644" y="683" width="3" height="17" fill="#00FF00"/>
<rect x="660" y="687" width="3" height="13" fill="#00FF00"/>
<rect x="676" y="694" width="3" height="6" fill="#00FF00"/>
<rect x="692" y="698" width="3" height="2" fill="#00FF00"/>
<rect x="708" y="699" width="3" height="1" fill="#00FF00"/>
<rect x="724" y="700" width="3" height="4" fill="#00FF00"/>
<rect x="740" y="700" width="3" height="7" fill="#00FF00"/>
<rect x="756" y="700" width="3" height="13" fill="#00FF00"/>
<rect x="772" y="700" width="3" height="20" fill="#00FF00"/>
<rect x="788" y="700" width="3" height="23" fill="#00FF00"/>
<rect x="804" y="700" width="3" height="26" fill="#00FF00"/>
<rect x="820" y="700" width="3" height="28" fill="#00FF00"/>
<rect x="836" y="700" width="3" height="25" fill="#00FF00"/>
<rect x="852" y="700" width="3" height="21" fill="#00FF00"/>
<rect x="868" y="700" width="3" height="12" fill="#00FF00"/>
<rect x="884" y="700" width="3" height="10" fill="#00FF00"/>
<rect x="900" y="700" width="3" height="9" fill="#00FF00"/>
<rect x="916" y="700" width="3" height="9" fill="#00FF00"/>
<rect x="932" y="700" width="3" height="8" fill="#00FF00"/>
<rect x="948" y="700" width="3" height="7" fill="#00FF00"/>
<rect x="964" y="698" width="3" height="2" fill="#00FF00"/>
<rect x="980" y="691" width="3" height="9" fill="#00FF00"/>
<rect x="996" y="685" width="3" height="15" fill="#00FF00"/>
<rect x="1012" y="685" width="3" height="15" fill="#00FF00"/>
<rect x="1028" y="679" width="3" height="21" fill="#00FF00"/>
<rect x="1044" y="671" width="3" height="29" fill="#00FF00"/>
<rect x="1060" y="659" width="3" height="41" fill="#00FF00"/>
<rect x="1076" y="647" width="3" height="53" fill="#00FF00"/>
<rect x="1092" y="638" width="3" height="62" fill="#00FF00"/>
<rect x="1108" y="634" width="3" height="66" fill="#00FF00"/>
<rect x="1124" y="633" width="3" height="67" fill="#00FF00"/>
<rect x="1140" y="633" width="3" height="67" fill="#00FF00"/>
<rect x="1156" y="635" width="3" height="65" fill="#00FF00"/>
<rect x="1172" y="640" width="3" height="60" fill="#00FF00"/>
<rect x="1188" y="643" width="3" height="57" fill="#00FF00"/>
<rect x="1204" y="647" width="3" height="53" fill="#00FF00"/>
<rect x="1220" y="649" width="3" height="51" fill="#00FF00"/>
<rect x="1236" y="657" width="3" height="43" fill="#00FF00"/>
<rect x="1252" y="665" width="3" height="35" fill="#00FF00"/>
<rect x="1268" y="668" width="3" height="32" fill="#00FF00"/>
<rect x="1284" y="670" width="3" height="30" fill="#00FF00"/>
<rect x="1300" y="672" width="3" height="28" fill="#00FF00"/>
<rect x="1316" y="673" width="3" height="27" fill="#00FF00"/>
<rect x="1332" y="674" width="3" height="26" fill="#00FF00"/>
<rect x="1348" y="673" width="3" height="27" fill="#00FF00"/>
<rect x="1364" y="667" width="3" height="33" fill="#00FF00"/>
<polyline points="5,658.3 21,657 37,655 53,653 69,650.3 85,647.8 101,644.5 117,643 133,641.5 149,640.5 165,640 181,639.3 197,639 213,639.3 229,640 261,645.5 325,655 357,660.5 373,663.5 389,663.5 405,663.5 437,664 453,665 469,664.5 501,663.5 517,661.5 533,659.5 565,658 581,657 597,657 613,659 629,660.5 645,663.5 661,667.5 677,672 693,676.5 709,682 725,687.5 741,692 757,696 773,700.5 789,703.5 805,708.5 821,712 837,714.5 853,717.5 869,718.5 885,718.5 901,718 917,717 933,715 949,713 965,710 981,706.5 997,703.5 1013,700.5 1029,697 1045,692.5 1061,687.5 1077,680.5 1093,674 1109,666 1125,660 1141,653.5 1157,648.5 1173,643 1189,640 1205,639 1221,639 1237,641 1253,645.5 1269,650 1285,654 1301,658 1317,660.5 1333,664.5 1349,667.5 1365,668.5" fill="none" stroke="#FF0000" stroke-width="2" stroke-linejoin="round"/>
</g>
<text transform="translate(9 640) scale(0.9186 1)" font-family="Liberation Sans, sans-serif" font-size="10.17" fill="#000" stroke="#000" stroke-width="0.2">MACD(12,26,9) 0.004452 0.004265</text>
<text transform="translate(1648.5 638) scale(0.885 1)" font-family="Liberation Sans, sans-serif" font-size="10.17" fill="#000" stroke="#000" stroke-width="0.2">0.009778</text>
<text transform="translate(1648.5 704) scale(0.885 1)" font-family="Liberation Sans, sans-serif" font-size="10.17" fill="#000" stroke="#000" stroke-width="0.2">0.00</text>
<text transform="translate(1648.5 730) scale(0.885 1)" font-family="Liberation Sans, sans-serif" font-size="10.17" fill="#000" stroke="#000" stroke-width="0.2">-0.004295</text>
<rect x="1645" y="628" width="2" height="1" fill="#000"/>
<rect x="1645" y="731" width="2" height="1" fill="#000"/>
<rect x="1645" y="735" width="2" height="1" fill="#000"/>
<rect x="1645" y="700" width="2" height="1" fill="#000"/>
<line x1="6" y1="753.5" x2="1644" y2="753.5" stroke="#000" stroke-width="1" stroke-dasharray="3 3"/>
<line x1="6" y1="779.5" x2="1644" y2="779.5" stroke="#000" stroke-width="1" stroke-dasharray="3 3"/>
<line x1="6" y1="809.5" x2="1644" y2="809.5" stroke="#000" stroke-width="1" stroke-dasharray="3 3"/>
<g clip-path="url(#c3)">
<polyline points="5,766.5 37,774 53,767 69,764.5 85,767.5 101,769.5 133,769.5 149,773 165,770 181,766.5 197,766.5 213,774 229,775 245,777 261,774 277,773.5 325,773.5 341,770 357,777 373,773 389,771.5 405,767.5 421,767.5 437,774.5 453,774.5 469,769 485,768.5 501,765.5 517,767.5 565,767.5 581,779.5 597,782.5 613,782.5 629,778 645,779.5 661,780 677,784.5 693,781.5 709,781.5 725,783.5 741,785.5 757,788 773,790.5 789,788 805,787.5 821,787.5 837,781 853,778.5 869,772.5 885,778.5 901,779.5 949,779.5 965,770 981,768 997,767.5 1013,774.5 1029,769 1045,765 1061,760 1077,758.5 1093,758.5 1109,763.5 1125,764.5 1141,765 1157,768 1173,770.5 1189,770.5 1205,772 1221,770 1237,779 1253,780.5 1269,775 1285,775 1301,774.5 1317,773.5 1333,774.5 1349,772.5 1365,765.5" fill="none" stroke="#1E90FF" stroke-width="2" stroke-linejoin="round"/>
</g>
<text transform="translate(9 747) scale(0.9114 1)" font-family="Liberation Sans, sans-serif" font-size="10.17" fill="#000" stroke="#000" stroke-width="0.2">RSI(14) 65.8480</text>
<text transform="translate(1648.5 745) scale(0.885 1)" font-family="Liberation Sans, sans-serif" font-size="10.17" fill="#000" stroke="#000" stroke-width="0.2">100</text>
<text transform="translate(1647.5 757) scale(0.885 1)" font-family="Liberation Sans, sans-serif" font-size="10.17" fill="#000" stroke="#000" stroke-width="0.2">80</text>
<text transform="translate(1647.5 783) scale(0.885 1)" font-family="Liberation Sans, sans-serif" font-size="10.17" fill="#000" stroke="#000" stroke-width="0.2">50</text>
<text transform="translate(1647.5 813) scale(0.885 1)" font-family="Liberation Sans, sans-serif" font-size="10.17" fill="#000" stroke="#000" stroke-width="0.2">15</text>
<text transform="translate(1648.5 820) scale(0.885 1)" font-family="Liberation Sans, sans-serif" font-size="10.17" fill="#000" stroke="#000" stroke-width="0.2">0</text>
<rect x="1645" y="822" width="1" height="1" fill="#000"/>
<rect x="5" y="824" width="1" height="3" fill="#000"/>
<text transform="translate(4.5 836) scale(0.9009 1)" font-family="Liberation Sans, sans-serif" font-size="10.17" fill="#000" stroke="#000" stroke-width="0.2">30 Mar 2023</text>
<rect x="69" y="824" width="1" height="3" fill="#000"/>
<text transform="translate(68.5 836) scale(0.9009 1)" font-family="Liberation Sans, sans-serif" font-size="10.17" fill="#000" stroke="#000" stroke-width="0.2">4 Apr 2023</text>
<rect x="133" y="824" width="1" height="3" fill="#000"/>
<text transform="translate(132.5 836) scale(0.9009 1)" font-family="Liberation Sans, sans-serif" font-size="10.17" fill="#000" stroke="#000" stroke-width="0.2">9 Apr 2023</text>
<rect x="197" y="824" width="1" height="3" fill="#000"/>
<text transform="translate(196.5 836) scale(0.9009 1)" font-family="Liberation Sans, sans-serif" font-size="10.17" fill="#000" stroke="#000" stroke-width="0.2">13 Apr 2023</text>
<rect x="261" y="824" width="1" height="3" fill="#000"/>
<text transform="translate(260.5 836) scale(0.9009 1)" font-family="Liberation Sans, sans-serif" font-size="10.17" fill="#000" stroke="#000" stroke-width="0.2">18 Apr 2023</text>
<rect x="325" y="824" width="1" height="3" fill="#000"/>
<text transform="translate(324.5 836) scale(0.9009 1)" font-family="Liberation Sans, sans-serif" font-size="10.17" fill="#000" stroke="#000" stroke-width="0.2">23 Apr 2023</text>
<rect x="389" y="824" width="1" height="3" fill="#000"/>
<text transform="translate(388.5 836) scale(0.9009 1)" font-family="Liberation Sans, sans-serif" font-size="10.17" fill="#000" stroke="#000" stroke-width="0.2">27 Apr 2023</text>
<rect x="453" y="824" width="1" height="3" fill="#000"/>
<text transform="translate(452.5 836) scale(0.9292 1)" font-family="Liberation Sans, sans-serif" font-size="10.17" fill="#000" stroke="#000" stroke-width="0.2">2 May 2023</text>
<rect x="517" y="824" width="1" height="3" fill="#000"/>
<text transform="translate(516.5 836) scale(0.9292 1)" font-family="Liberation Sans, sans-serif" font-size="10.17" fill="#000" stroke="#000" stroke-width="0.2">7 May 2023</text>
<rect x="581" y="824" width="1" height="3" fill="#000"/>
<text transform="translate(580.5 836) scale(0.9292 1)" font-family="Liberation Sans, sans-serif" font-size="10.17" fill="#000" stroke="#000" stroke-width="0.2">11 May 2023</text>
<rect x="645" y="824" width="1" height="3" fill="#000"/>
<text transform="translate(644.5 836) scale(0.9292 1)" font-family="Liberation Sans, sans-serif" font-size="10.17" fill="#000" stroke="#000" stroke-width="0.2">16 May 2023</text>
<rect x="709" y="824" width="1" height="3" fill="#000"/>
<text transform="translate(708.5 836) scale(0.9292 1)" font-family="Liberation Sans, sans-serif" font-size="10.17" fill="#000" stroke="#000" stroke-width="0.2">21 May 2023</text>
<rect x="773" y="824" width="1" height="3" fill="#000"/>
<text transform="translate(772.5 836) scale(0.9292 1)" font-family="Liberation Sans, sans-serif" font-size="10.17" fill="#000" stroke="#000" stroke-width="0.2">25 May 2023</text>
<rect x="837" y="824" width="1" height="3" fill="#000"/>
<text transform="translate(836.5 836) scale(0.9292 1)" font-family="Liberation Sans, sans-serif" font-size="10.17" fill="#000" stroke="#000" stroke-width="0.2">30 May 2023</text>
<rect x="901" y="824" width="1" height="3" fill="#000"/>
<text transform="translate(900.5 836) scale(0.885 1)" font-family="Liberation Sans, sans-serif" font-size="10.17" fill="#000" stroke="#000" stroke-width="0.2">4 Jun 2023</text>
<rect x="965" y="824" width="1" height="3" fill="#000"/>
<text transform="translate(964.5 836) scale(0.885 1)" font-family="Liberation Sans, sans-serif" font-size="10.17" fill="#000" stroke="#000" stroke-width="0.2">8 Jun 2023</text>
<rect x="1029" y="824" width="1" height="3" fill="#000"/>
<text transform="translate(1028.5 836) scale(0.885 1)" font-family="Liberation Sans, sans-serif" font-size="10.17" fill="#000" stroke="#000" stroke-width="0.2">13 Jun 2023</text>
<rect x="1093" y="824" width="1" height="3" fill="#000"/>
<text transform="translate(1092.5 836) scale(0.885 1)" font-family="Liberation Sans, sans-serif" font-size="10.17" fill="#000" stroke="#000" stroke-width="0.2">18 Jun 2023</text>
<rect x="1157" y="824" width="1" height="3" fill="#000"/>
<text transform="translate(1156.5 836) scale(0.885 1)" font-family="Liberation Sans, sans-serif" font-size="10.17" fill="#000" stroke="#000" stroke-width="0.2">22 Jun 2023</text>
<rect x="1221" y="824" width="1" height="3" fill="#000"/>
<text transform="translate(1220.5 836) scale(0.885 1)" font-family="Liberation Sans, sans-serif" font-size="10.17" fill="#000" stroke="#000" stroke-width="0.2">27 Jun 2023</text>
<rect x="1285" y="824" width="1" height="3" fill="#000"/>
<text transform="translate(1284.5 836) scale(0.885 1)" font-family="Liberation Sans, sans-serif" font-size="10.17" fill="#000" stroke="#000" stroke-width="0.2">2 Jul 2023</text>
<rect x="1349" y="824" width="1" height="3" fill="#000"/>
<text transform="translate(1348.5 836) scale(0.885 1)" font-family="Liberation Sans, sans-serif" font-size="10.17" fill="#000" stroke="#000" stroke-width="0.2">6 Jul 2023</text>
<g shape-rendering="auto"><line x1="1375.6" y1="242.2" x2="1428" y2="157.5" stroke="#ED1C24" stroke-width="3"/><polygon points="1436.4,143.8 1419.8,154 1434.8,163.6" fill="#ED1C24"/></g>
</svg>
</body></html>
